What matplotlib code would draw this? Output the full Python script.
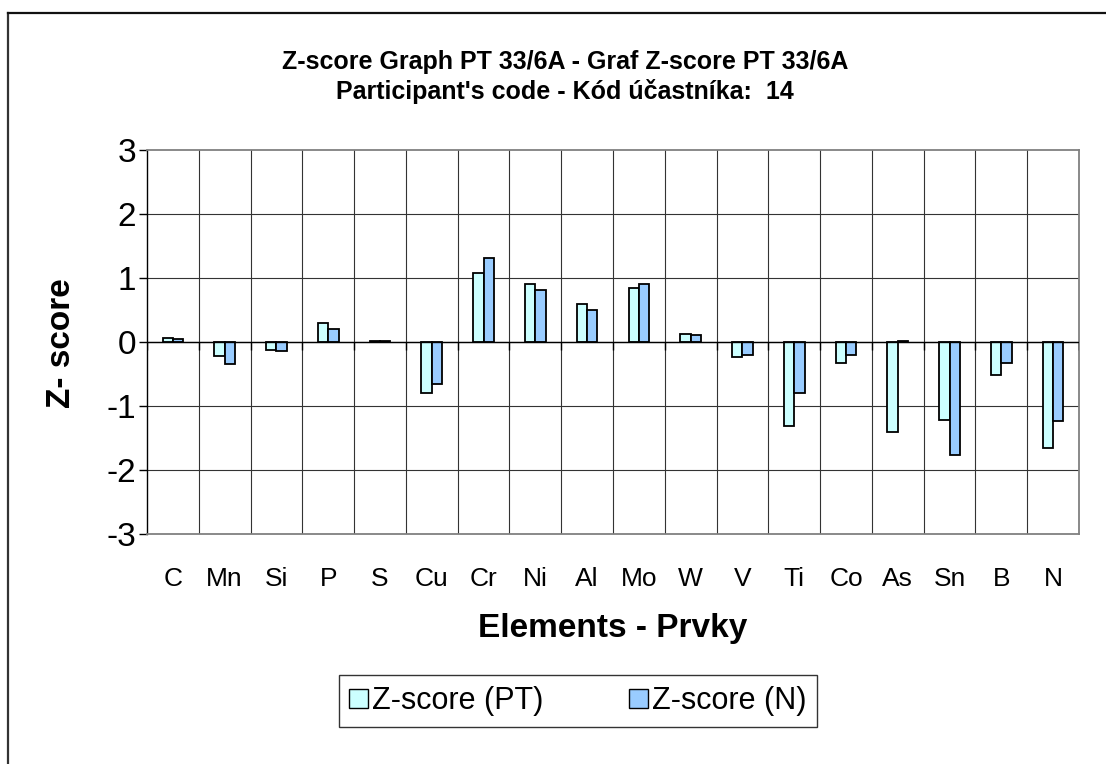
import numpy as np
import matplotlib
matplotlib.use('Agg')
from matplotlib import pyplot as plt
from matplotlib.patches import Patch
from matplotlib.lines import Line2D

elements = ['C', 'Mn', 'Si', 'P', 'S', 'Cu', 'Cr', 'Ni', 'Al', 'Mo', 'W', 'V', 'Ti', 'Co', 'As', 'Sn', 'B', 'N']
z_pt = [0.06, -0.22, -0.12, 0.30, 0.01, -0.79, 1.08, 0.90, 0.60, 0.84, 0.13, -0.24, -1.32, -0.33, -1.40, -1.22, -0.51, -1.66]
z_n = [0.04, -0.34, -0.14, 0.21, 0.01, -0.66, 1.31, 0.81, 0.50, 0.91, 0.11, -0.20, -0.79, -0.20, 0.01, -1.77, -0.33, -1.24]
yticks = [-3, -2, -1, 0, 1, 2, 3]

plt.rcParams['font.family'] = ['Liberation Sans', 'DejaVu Sans']

W, H = 1106, 764
fig = plt.figure(figsize=(W / 100, H / 100), dpi=100)
ax = fig.add_axes([147 / W, 1 - 534 / H, 932 / W, 384 / H])

x = np.arange(len(elements)) + 0.5
bw = 0.2
ax.bar(x - bw / 2, z_pt, bw, color='#CCFFFF', edgecolor='black', linewidth=1.3, zorder=3)
ax.bar(x + bw / 2, z_n, bw, color='#99CCFF', edgecolor='black', linewidth=1.3, zorder=3)

ax.set_xlim(0, len(elements))
ax.set_ylim(-3, 3)
ax.set_yticks(yticks)
ax.set_yticklabels([str(v) for v in yticks], fontsize=24)
ax.set_xticks(x)
ax.set_xticklabels(elements, fontsize=19)
ax.tick_params(axis='x', length=0, pad=24)
ax.tick_params(axis='y', length=6, width=1, direction='out', pad=2)

# grid
for v in yticks[1:-1]:
    ax.axhline(v, color='#333333', lw=0.8, zorder=1)
for i in range(1, len(elements)):
    ax.axvline(i, color='#333333', lw=0.8, zorder=1)

# category axis at zero with tick marks
ax.axhline(0, color='black', lw=1.0, zorder=4)
ax.vlines(np.arange(len(elements) + 1), -0.12, 0, color='black', lw=1.0, zorder=4)

for s in ['top', 'right', 'bottom']:
    ax.spines[s].set_color('#808080')
    ax.spines[s].set_linewidth(1.3)
ax.spines['left'].set_color('black')
ax.spines['left'].set_linewidth(1.0)

fig.text(62 / W, 1 - 343 / H, 'Z- score', rotation=90, fontsize=24, fontweight='bold',
         ha='center', va='center')
fig.text(613 / W, 1 - 628 / H, 'Elements - Prvky', fontsize=24, fontweight='bold',
         ha='center', va='center')
fig.text(565 / W, 1 - 62 / H, 'Z-score Graph PT 33/6A - Graf Z-score PT 33/6A',
         fontsize=18, fontweight='bold', ha='center', va='center')
fig.text(565 / W, 1 - 92 / H, "Participant's code - Kód účastníka:  14",
         fontsize=18, fontweight='bold', ha='center', va='center')

handles = [Patch(facecolor='#CCFFFF', edgecolor='black', linewidth=1.0, label='Z-score (PT)'),
           Patch(facecolor='#99CCFF', edgecolor='black', linewidth=1.0, label='Z-score (N)')]
leg = fig.legend(handles=handles, loc='center', bbox_to_anchor=(578 / W, 1 - 701 / H),
                 ncol=2, fontsize=22, frameon=True, fancybox=False, handlelength=0.6,
                 handleheight=0.6, handletextpad=0.15, columnspacing=2.8, borderpad=0.35,
                 borderaxespad=0)
leg.get_frame().set_edgecolor('black')
leg.get_frame().set_linewidth(1.0)

# outer chart border (left and top)
fig.add_artist(Line2D([8 / W, 8 / W], [0, 1 - 13 / H], color='#333333', lw=1.6))
fig.add_artist(Line2D([8 / W, 1], [1 - 13 / H, 1 - 13 / H], color='#111111', lw=1.6))

fig.savefig('out.png', dpi=100)
